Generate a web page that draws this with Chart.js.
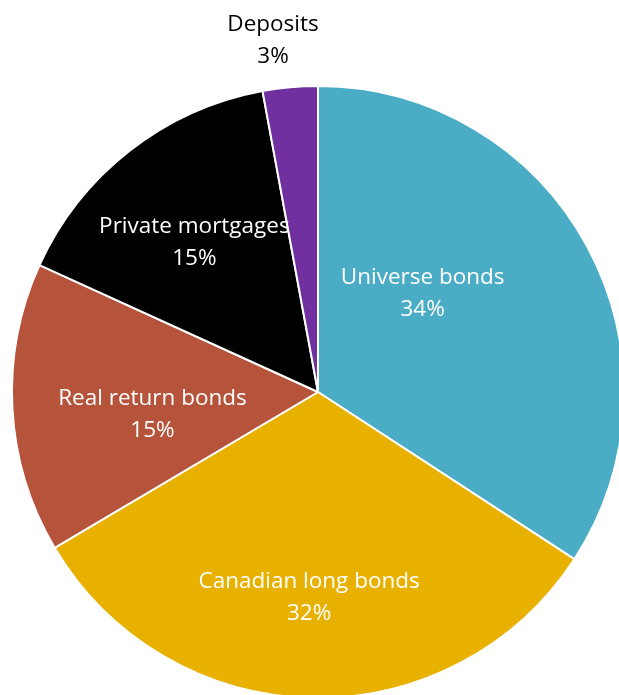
<!DOCTYPE html>
<html>
<head>
<meta charset="utf-8">
<script src="https://cdn.jsdelivr.net/npm/chart.js@4"></script>
<style>
html,body{margin:0;padding:0;background:#fff;overflow:hidden;width:619px;height:695px;}
#wrap{position:absolute;left:0;top:0;width:640px;height:720px;}
</style>
</head>
<body>
<div id="wrap"><canvas id="c" width="640" height="720"></canvas></div>
<script>
const categories = ["Universe bonds", "Canadian long bonds", "Real return bonds", "Private mortgages", "Deposits"];
const values = [34.2, 32.3, 15.3, 15.3, 2.9];
const percentLabels = ["34%", "32%", "15%", "15%", "3%"];
const colors = ["#4BACC6", "#E8B100", "#B5533B", "#000000", "#7030A0"];
const labelColors = ["#ffffff", "#ffffff", "#ffffff", "#ffffff", "#000000"];
// label anchor offsets as fractions of the pie radius
const labelOffsetX = [0.342, -0.029, -0.541, -0.404, -0.147];
const labelOffsetY = [-0.322, 0.671, 0.075, -0.487, -1.148];

const labelPlugin = {
  id: 'sliceLabels',
  afterDatasetsDraw(chart) {
    const ctx = chart.ctx;
    const meta = chart.getDatasetMeta(0);
    ctx.save();
    ctx.font = '22.5px "Open Sans", sans-serif';
    ctx.textAlign = 'center';
    ctx.textBaseline = 'middle';
    meta.data.forEach((arc, i) => {
      const p = arc.getProps(['x','y','outerRadius'], true);
      const x = p.x + labelOffsetX[i] * p.outerRadius;
      const y = p.y + labelOffsetY[i] * p.outerRadius;
      ctx.fillStyle = labelColors[i];
      ctx.fillText(categories[i], x, y - 16);
      ctx.fillText(percentLabels[i], x, y + 16);
    });
    ctx.restore();
  }
};

new Chart(document.getElementById('c'), {
  type: 'pie',
  data: {
    labels: categories,
    datasets: [{
      data: values,
      backgroundColor: colors,
      borderColor: '#ffffff',
      borderWidth: 2
    }]
  },
  options: {
    responsive: false,
    animation: false,
    layout: { padding: { left: 11, right: 15, top: 85, bottom: 21 } },
    plugins: { legend: { display: false }, tooltip: { enabled: false } }
  },
  plugins: [labelPlugin]
});
</script>
</body>
</html>
